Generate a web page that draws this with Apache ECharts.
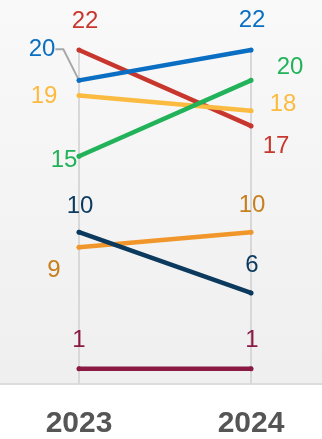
<!DOCTYPE html>
<html>
<head>
<meta charset="utf-8">
<script src="https://cdn.jsdelivr.net/npm/echarts@6/dist/echarts.min.js"></script>
<style>
html,body{margin:0;padding:0;background:#fff;}
#chart{width:322px;height:439px;}
</style>
</head>
<body>
<div id="chart"></div>
<script>
const categories = ['2023', '2024'];
const seriesNames = ['A', 'B', 'C', 'D', 'E', 'F', 'G'];
const redValues = [22, 17];
const blueValues = [20, 22];
const yellowValues = [19, 18];
const greenValues = [15, 20];
const orangeValues = [9, 10];
const navyValues = [10, 6];
const maroonValues = [1, 1];

const seriesValues = [redValues, blueValues, yellowValues, greenValues, orangeValues, navyValues, maroonValues];
const lineColors = ['#c8372d', '#0a6fc2', '#fbbb40', '#22b25a', '#f0962a', '#0b3a5e', '#8a1a44'];
const labelColors = ['#c8372d', '#0a6fc2', '#fbbb40', '#22b25a', '#c8801e', '#0b3a5e', '#8a1a44'];
// label offsets [dx, dy] from the point, per series per category
const labelOffsets = [
  [[6, -29], [25, 20]],
  [[-37, -31], [1, -30]],
  [[-35, 1], [32, -6]],
  [[-15, 4], [39, -13]],
  [[-25, 23], [1, -27]],
  [[1, -26], [1, -28]],
  [[0, -28], [1, -28]]
];

const chart = echarts.init(document.getElementById('chart'), null, {renderer: 'canvas'});

const series = seriesValues.map((vals, si) => ({
  name: seriesNames[si],
  type: 'line',
  data: vals.map((v, di) => {
    const item = {value: v};
    if (si === 1 && di === 0) {
      item.labelLine = {show: true, length2: 8, lineStyle: {color: '#a8a8a8', width: 2}};
    }
    return item;
  }),
  symbol: 'circle',
  symbolSize: 5,
  lineStyle: {color: lineColors[si], width: 4.5, cap: 'round'},
  itemStyle: {color: lineColors[si]},
  label: {
    show: true,
    position: 'inside',
    color: labelColors[si],
    fontSize: 24,
    fontFamily: 'Liberation Sans, Arial, sans-serif',
    align: 'center',
    verticalAlign: 'middle'
  },
  labelLayout: function (p) {
    const off = labelOffsets[si][p.dataIndex];
    return {dx: off[0], dy: off[1]};
  },
  emphasis: {disabled: true},
  animation: false,
  z: 2 + si
}));

chart.setOption({
  animation: false,
  graphic: [
    {
      type: 'rect',
      z: -10,
      silent: true,
      shape: {x: 0, y: 0, width: 322, height: 384},
      style: {
        fill: new echarts.graphic.LinearGradient(0, 0, 0, 1, [
          {offset: 0, color: '#f9f9f9'},
          {offset: 1, color: '#efefef'}
        ])
      }
    },
    {
      type: 'line',
      z: -5,
      silent: true,
      shape: {x1: 0, y1: 384, x2: 322, y2: 384},
      style: {stroke: '#dcdcdc', lineWidth: 2}
    }
  ],
  grid: {left: 79, right: 71, top: 50, bottom: 54},
  xAxis: {
    type: 'category',
    data: categories,
    boundaryGap: false,
    axisLine: {show: false},
    axisTick: {show: false},
    splitLine: {show: true, lineStyle: {color: '#d8d8d8', width: 2}},
    axisLabel: {
      color: '#555555',
      fontSize: 30,
      fontWeight: 'bold',
      fontFamily: 'Liberation Sans, Arial, sans-serif',
      margin: 25
    }
  },
  yAxis: {
    type: 'value',
    min: 0,
    max: 22,
    show: false,
    splitLine: {show: false}
  },
  series: series
});
</script>
</body>
</html>
